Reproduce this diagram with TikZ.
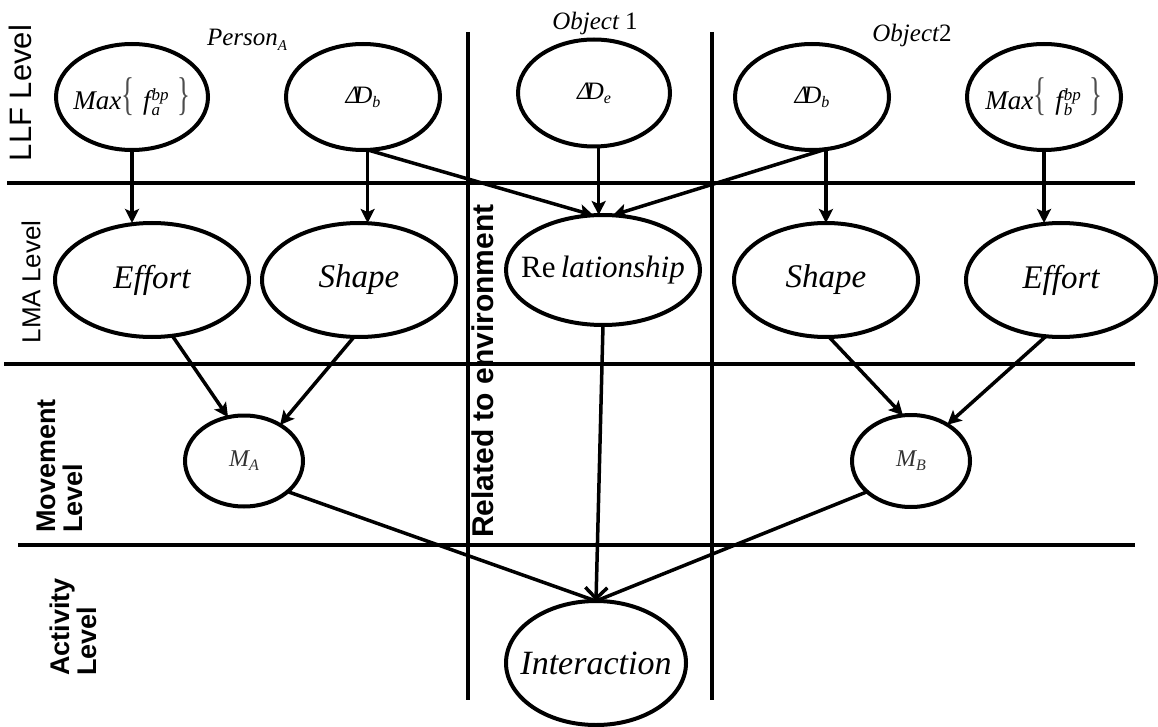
\documentclass[tikz,border=0pt]{standalone}
\usepackage{fontspec}
\setmainfont{Liberation Serif}
\setsansfont{Liberation Sans}
\usetikzlibrary{shapes.geometric,arrows.meta}
\newcommand\fsz[1]{\fontsize{#1}{#1}\selectfont}
\newcommand\zw[1]{\makebox[0pt]{#1}}
\newcommand\bigbr[1]{{\color{black!70}\upshape\scalebox{1}[1.7]{#1}}}
\begin{document}
\begin{tikzpicture}[x=1pt,y=-1pt,
  ell/.style={ellipse,draw,line width=4pt,inner sep=0pt,outer sep=0pt},
  sepline/.style={line width=4pt},
  arr/.style={line width=3.5pt,-{Stealth[length=14pt,width=14pt,inset=3pt]}},
  barb/.style={line width=3.5pt,-{Straight Barb[length=11pt,width=22pt,line width=3.5pt]}},
  plain/.style={line width=3.5pt},
  lvl/.style={font=\sffamily\fsz{28}, rotate=90, align=left, inner sep=0pt},
  lvlb/.style={font=\sffamily\bfseries\fsz{27}, rotate=90, align=left, inner sep=0pt},
  ttl/.style={font=\fsz{25}\itshape, inner sep=0pt}]
\useasboundingbox (0,0) rectangle (1158,727);

% separators
\draw[sepline] (7,183) -- (1135,183);
\draw[sepline] (4,364) -- (1135,364);
\draw[sepline] (18,545) -- (1135,545);
\draw[sepline] (468,32) -- (468,700);
\draw[sepline] (712,32) -- (712,700);

% level labels
\node[lvl, font=\sffamily\fsz{31}] (llf) at (20,93) {LLF Level};
\node[lvl, font=\sffamily\fsz{26}] (lma) at (31,282) {LMA Level};
\node[lvlb] (mov) at (60,466) {Movement\\Level};
\node[lvlb] (act) at (73,627) {Activity\\Level};
\node[lvlb, font=\sffamily\bfseries\fsz{30}] (rel2env) at (483,371) {Related to environment};

% column titles
\node[ttl] (pa) at (247,40) {Person\raisebox{-5pt}{\fsz{15}A}};
\node[ttl] (o1) at (595,23) {Object \upshape 1};
\node[ttl] (o2) at (912,35) {Object\upshape 2};

% LLF nodes
\node[ell, minimum width=152pt, minimum height=106pt] (fa) at (132,97)
  {\zw{\fsz{27}\itshape Max\bigbr{\{}\,\,f\kern1pt\rlap{\raisebox{-6pt}{\fsz{17}a}}\raisebox{9pt}{\fsz{17}bp}\,\,\bigbr{\}}}};
\node[ell, minimum width=154pt, minimum height=106pt] (dbl) at (363,97)
  {\zw{\fsz{25}\itshape Δ\kern-6pt D\raisebox{-4pt}{\fsz{16}b}}};
\node[ell, minimum width=152pt, minimum height=107pt] (de) at (594,93)
  {\zw{\fsz{25}\itshape Δ\kern-6pt D\raisebox{-4pt}{\fsz{16}e}}};
\node[ell, minimum width=154pt, minimum height=106pt] (dbr) at (812,97)
  {\zw{\fsz{25}\itshape Δ\kern-6pt D\raisebox{-4pt}{\fsz{16}b}}};
\node[ell, minimum width=154pt, minimum height=106pt] (fb) at (1044,97)
  {\zw{\fsz{27}\itshape Max\bigbr{\{}\,\,f\kern1pt\rlap{\raisebox{-6pt}{\fsz{17}b}}\raisebox{9pt}{\fsz{17}bp}\,\,\bigbr{\}}}};

% LMA nodes
\node[ell, minimum width=194pt, minimum height=114pt] (eff) at (152,280)
  {\zw{\fsz{33}\itshape Effort}};
\node[ell, minimum width=194pt, minimum height=114pt] (shl) at (359,280)
  {\zw{\fsz{33}\itshape Shape}};
\node[ell, minimum width=194pt, minimum height=110pt] (rel) at (603,270)
  {\zw{\fsz{31}Re\,\textit{lationship}}};
\node[ell, minimum width=184pt, minimum height=114pt] (shr) at (826,280)
  {\zw{\fsz{33}\itshape Shape}};
\node[ell, minimum width=190pt, minimum height=114pt] (efr) at (1061,280)
  {\zw{\fsz{33}\itshape Effort}};

% movement nodes
\node[ell, minimum width=118pt, minimum height=91pt] (ma) at (244,461)
  {\zw{\color{black!80}\fsz{24}\itshape M\raisebox{-4pt}{\fsz{16}A}}};
\node[ell, minimum width=118pt, minimum height=92pt] (mb) at (911,461)
  {\zw{\color{black!80}\fsz{24}\itshape M\raisebox{-4pt}{\fsz{16}B}}};

% activity node
\node[ell, minimum width=180pt, minimum height=124pt] (inter) at (596,663)
  {\zw{\fsz{34}\itshape Interaction}};

% connectors LLF -> LMA
\draw[arr] (fa.south) -- (fa.south |- eff.north);
\draw[arr] (dbl.-85) -- (dbl.-85 |- shl.north);
\draw[arr] (dbl.-85) -- (rel.100);
\draw[arr] (de.-85) -- (de.-85 |- rel.north);
\draw[arr] (dbr.-75) -- (rel.80);
\draw[arr] (dbr.-75) -- (dbr.-75 |- shr.north);
\draw[arr] (fb.south) -- (fb.south |- efr.north);

% LMA -> movement
\draw[arr] (eff.-70) -- (ma.110);
\draw[arr] (shl.-95) -- (ma.45);
\draw[arr] (shr.-87) -- (mb.100);
\draw[arr] (efr.-105) -- (mb.45);

% -> interaction
\draw[barb] (rel.south) -- (inter.north);
\draw[plain] (ma.-35) -- (inter.north);
\draw[plain] (mb.-145) -- (inter.north);
\end{tikzpicture}
\end{document}
